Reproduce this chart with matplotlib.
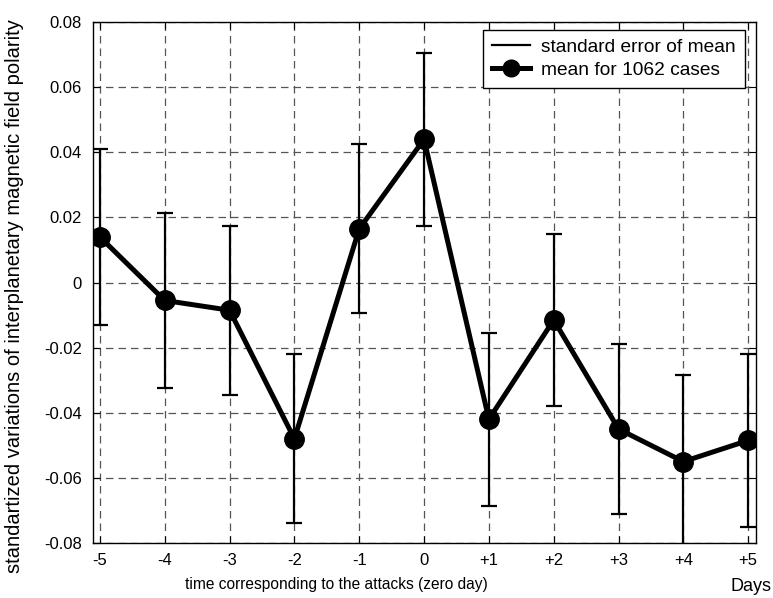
import numpy as np
import matplotlib.pyplot as plt
from matplotlib.lines import Line2D

plt.rcParams['font.family'] = ['Liberation Sans', 'DejaVu Sans']

days = [-5, -4, -3, -2, -1, 0, 1, 2, 3, 4, 5]
tickLabels = ['-5', '-4', '-3', '-2', '-1', '0', '+1', '+2', '+3', '+4', '+5']
meanVals = [0.014, -0.0055, -0.0085, -0.048, 0.0165, 0.044, -0.042, -0.0115, -0.045, -0.055, -0.0485]
stdErr = [0.027, 0.027, 0.026, 0.026, 0.026, 0.0265, 0.0265, 0.0265, 0.026, 0.0265, 0.0265]

fig = plt.figure(figsize=(7.73, 5.98), dpi=100)
ax = fig.add_axes([0.120, 0.092, 0.858, 0.871])

ax.errorbar(days, meanVals, yerr=stdErr, fmt='none', ecolor='black',
            elinewidth=1.6, capsize=6, capthick=1.6, zorder=3)
ax.plot(days, meanVals, color='black', lw=3.6, marker='o', ms=14, zorder=4)

ax.set_xlim(-5.11, 5.12)
ax.set_ylim(-0.08, 0.08)
ax.set_xticks(days)
ax.set_xticklabels(tickLabels)
ax.set_yticks(np.arange(-0.08, 0.081, 0.02))
ax.set_yticklabels(['-0.08', '-0.06', '-0.04', '-0.02', '0', '0.02', '0.04', '0.06', '0.08'])
ax.tick_params(direction='in', top=True, right=True, labelsize=12, length=5)
ax.tick_params(axis='x', pad=7)
ax.tick_params(axis='y', pad=8)
ax.grid(True, linestyle=(0, (6, 4)), color='#555555', lw=0.9)

ax.set_ylabel('standartized variations of interplanetary magnetic field polarity', fontsize=14.5)
ax.set_xlabel('time corresponding to the attacks (zero day)', fontsize=11.2, va='top')
ax.xaxis.set_label_coords(0.367, -0.066)
ax.yaxis.set_label_coords(-0.103, 0.474)
ax.text(0.993, -0.068, 'Days', transform=ax.transAxes, fontsize=13, ha='center', va='top')

handles = [Line2D([0], [0], color='black', lw=1.6),
           Line2D([0], [0], color='black', lw=3.6, marker='o', ms=12)]
leg = ax.legend(handles, ['standard error of mean', 'mean for 1062 cases'],
                loc='upper right', bbox_to_anchor=(0.983, 0.985), borderaxespad=0,
                fontsize=13.8, fancybox=False, framealpha=1, edgecolor='black',
                handlelength=2.0, handletextpad=0.6, borderpad=0.45, labelspacing=0.3)
leg.get_frame().set_linewidth(1.0)

for s in ax.spines.values():
    s.set_linewidth(1.0)

plt.savefig('out.png', dpi=100)
